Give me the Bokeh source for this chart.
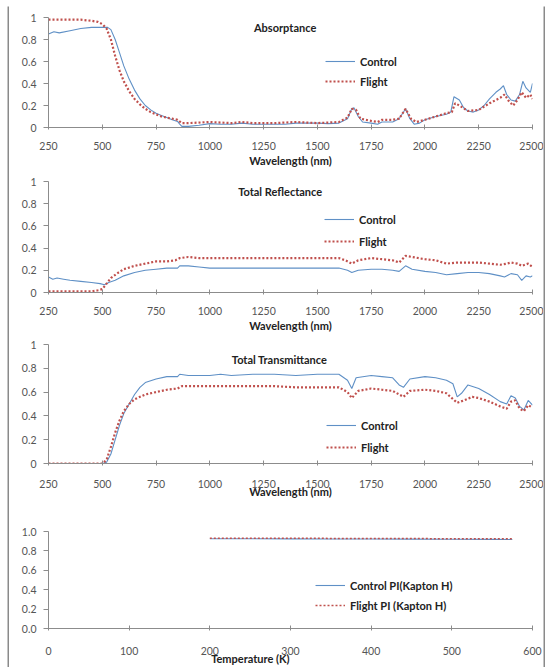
from bokeh.plotting import figure
from bokeh.layouts import column, row
from bokeh.models import (Range1d, FixedTicker, Label, Legend, LegendItem, Spacer,
                          NumeralTickFormatter)
from bokeh.embed import file_html
from bokeh.resources import INLINE

# ---------------- data ----------------
abs_ctrl_wl = [250, 275, 300, 350, 400, 450, 500, 525, 540, 560, 580, 600, 625, 650, 675, 700,
               725, 750, 775, 800, 825, 850, 860, 870, 900, 950, 1000, 1050, 1100, 1150, 1200,
               1250, 1300, 1350, 1400, 1450, 1500, 1550, 1600, 1640, 1660, 1670, 1690, 1710,
               1750, 1780, 1800, 1850, 1880, 1910, 1930, 1950, 1975, 2000, 2050, 2100, 2120,
               2135, 2160, 2180, 2200, 2225, 2250, 2275, 2300, 2330, 2350, 2365, 2380, 2400,
               2420, 2440, 2455, 2470, 2490, 2500]
abs_ctrl = [0.85, 0.87, 0.86, 0.88, 0.90, 0.91, 0.91, 0.91, 0.89, 0.80, 0.68, 0.56, 0.44, 0.34,
            0.26, 0.20, 0.16, 0.13, 0.11, 0.09, 0.07, 0.055, 0.03, 0.01, 0.01, 0.02, 0.035, 0.03,
            0.03, 0.04, 0.03, 0.03, 0.03, 0.03, 0.04, 0.04, 0.04, 0.035, 0.04, 0.08, 0.17, 0.18,
            0.10, 0.05, 0.04, 0.03, 0.05, 0.05, 0.08, 0.17, 0.08, 0.03, 0.04, 0.07, 0.10, 0.12,
            0.14, 0.28, 0.25, 0.18, 0.15, 0.14, 0.16, 0.20, 0.26, 0.32, 0.35, 0.38, 0.30, 0.25,
            0.24, 0.30, 0.42, 0.36, 0.32, 0.40]

abs_flt_wl = [250, 300, 350, 400, 450, 480, 500, 520, 540, 560, 580, 600, 625, 650, 675, 700,
              725, 750, 775, 800, 825, 850, 870, 900, 1000, 1100, 1150, 1200, 1300, 1400, 1500,
              1600, 1640, 1660, 1680, 1700, 1750, 1780, 1800, 1850, 1880, 1910, 1935, 1960,
              2000, 2050, 2100, 2125, 2140, 2160, 2200, 2250, 2300, 2350, 2370, 2390, 2410,
              2430, 2450, 2470, 2490, 2500]
abs_flt = [0.98, 0.98, 0.98, 0.98, 0.97, 0.96, 0.94, 0.90, 0.80, 0.65, 0.52, 0.42, 0.33, 0.26,
           0.21, 0.17, 0.14, 0.12, 0.10, 0.09, 0.08, 0.07, 0.04, 0.04, 0.05, 0.04, 0.05, 0.04,
           0.04, 0.05, 0.04, 0.05, 0.09, 0.17, 0.16, 0.08, 0.06, 0.05, 0.07, 0.07, 0.08, 0.17,
           0.08, 0.05, 0.07, 0.10, 0.13, 0.14, 0.22, 0.20, 0.15, 0.16, 0.22, 0.27, 0.30, 0.24,
           0.20, 0.25, 0.32, 0.27, 0.30, 0.26]

ref_ctrl_wl = [250, 270, 290, 320, 350, 400, 450, 490, 510, 530, 560, 600, 650, 700, 750, 800,
               850, 860, 900, 950, 1000, 1100, 1200, 1300, 1400, 1500, 1600, 1640, 1660, 1690,
               1750, 1800, 1850, 1880, 1910, 1940, 2000, 2050, 2100, 2150, 2200, 2250, 2300,
               2350, 2370, 2400, 2430, 2450, 2470, 2490, 2500]
ref_ctrl = [0.14, 0.12, 0.13, 0.12, 0.11, 0.10, 0.09, 0.08, 0.07, 0.09, 0.11, 0.15, 0.18, 0.20,
            0.21, 0.22, 0.22, 0.24, 0.24, 0.23, 0.22, 0.22, 0.22, 0.22, 0.22, 0.22, 0.22, 0.20,
            0.18, 0.20, 0.21, 0.21, 0.20, 0.19, 0.24, 0.21, 0.19, 0.18, 0.16, 0.17, 0.18, 0.18,
            0.17, 0.15, 0.14, 0.17, 0.16, 0.11, 0.15, 0.14, 0.15]

ref_flt_wl = [250, 300, 400, 450, 480, 500, 520, 540, 575, 600, 650, 700, 750, 800, 840, 860,
              900, 950, 1000, 1100, 1200, 1300, 1400, 1500, 1600, 1630, 1660, 1690, 1750, 1800,
              1850, 1880, 1910, 1940, 2000, 2050, 2100, 2150, 2200, 2250, 2300, 2350, 2380,
              2400, 2430, 2450, 2480, 2500]
ref_flt = [0.01, 0.01, 0.01, 0.01, 0.02, 0.03, 0.08, 0.13, 0.18, 0.21, 0.24, 0.26, 0.28, 0.28,
           0.29, 0.31, 0.32, 0.31, 0.31, 0.31, 0.31, 0.31, 0.31, 0.31, 0.31, 0.29, 0.26, 0.29,
           0.31, 0.30, 0.29, 0.27, 0.33, 0.32, 0.30, 0.29, 0.26, 0.27, 0.27, 0.27, 0.26, 0.25,
           0.26, 0.27, 0.26, 0.24, 0.26, 0.23]

tra_ctrl_wl = [250, 500, 520, 540, 560, 580, 600, 625, 650, 675, 700, 750, 800, 850, 860, 900,
               1000, 1050, 1100, 1200, 1300, 1400, 1500, 1600, 1640, 1660, 1680, 1750, 1800,
               1850, 1880, 1900, 1930, 2000, 2050, 2100, 2130, 2150, 2170, 2200, 2250, 2300,
               2350, 2380, 2400, 2420, 2440, 2460, 2480, 2500]
tra_ctrl = [0.0, 0.0, 0.01, 0.08, 0.20, 0.32, 0.42, 0.50, 0.58, 0.64, 0.68, 0.71, 0.73, 0.73,
            0.75, 0.74, 0.74, 0.75, 0.74, 0.75, 0.75, 0.74, 0.75, 0.75, 0.70, 0.63, 0.72, 0.74,
            0.73, 0.72, 0.66, 0.64, 0.71, 0.73, 0.72, 0.70, 0.67, 0.56, 0.59, 0.66, 0.63, 0.58,
            0.52, 0.50, 0.57, 0.55, 0.48, 0.45, 0.53, 0.49]

tra_flt_wl = [250, 500, 520, 540, 560, 580, 600, 625, 650, 700, 750, 800, 850, 870, 900, 1000,
              1100, 1200, 1300, 1400, 1500, 1600, 1640, 1660, 1690, 1750, 1800, 1850, 1880,
              1900, 1930, 2000, 2050, 2100, 2150, 2180, 2220, 2250, 2300, 2350, 2380, 2400,
              2420, 2440, 2460, 2480, 2500]
tra_flt = [0.0, 0.0, 0.03, 0.14, 0.26, 0.36, 0.44, 0.50, 0.54, 0.58, 0.60, 0.62, 0.63, 0.65,
           0.65, 0.65, 0.65, 0.65, 0.65, 0.64, 0.64, 0.64, 0.60, 0.55, 0.61, 0.63, 0.62, 0.61,
           0.58, 0.56, 0.61, 0.62, 0.61, 0.59, 0.51, 0.53, 0.56, 0.55, 0.52, 0.48, 0.46, 0.52,
           0.53, 0.46, 0.44, 0.49, 0.47]

emi_temp = [200, 250, 300, 350, 400, 450, 500, 550, 575]
emi_ctrl = [0.925, 0.925, 0.924, 0.923, 0.922, 0.921, 0.920, 0.919, 0.918]
emi_flt = [0.930, 0.930, 0.930, 0.929, 0.928, 0.927, 0.926, 0.925, 0.924]

wl_ticks = [250, 500, 750, 1000, 1250, 1500, 1750, 2000, 2250, 2500]
frac_ticks = [0, 0.2, 0.4, 0.6, 0.8, 1]
frac_labels = {0: "0", 0.2: "0.2", 0.4: "0.4", 0.6: "0.6", 0.8: "0.8", 1: "1"}
temp_ticks = [0, 100, 200, 300, 400, 500, 600]

# ---------------- style ----------------
FONT = "Lato"
CTRL = "#5f90c6"
FLT = "#c0504d"
AXIS = "#8c8c8c"
EDGE = "#8a8a8a"
TXT = "#555555"
W = 534


def bar(w, h):
    f = figure(width=w, height=h, output_backend="svg", toolbar_location=None,
               x_axis_location=None, y_axis_location=None, min_border=0,
               x_range=Range1d(0, 1), y_range=Range1d(0, 1))
    f.grid.visible = False
    f.outline_line_color = None
    f.background_fill_color = EDGE
    f.border_fill_color = EDGE
    return f


def base(height, xr, xticks, top, bottom, left, right):
    p = figure(width=W, height=height, output_backend="svg", toolbar_location=None,
               x_range=xr, y_range=Range1d(0, 1), min_border_top=top,
               min_border_bottom=bottom, min_border_left=left, min_border_right=right)
    p.outline_line_color = None
    p.grid.visible = False
    p.background_fill_color = "white"
    p.border_fill_color = "white"
    for ax in (p.xaxis[0], p.yaxis[0]):
        ax.axis_line_color = AXIS
        ax.major_tick_line_color = AXIS
        ax.minor_tick_line_color = None
        ax.major_label_text_font = FONT
        ax.major_label_text_font_size = "10.5px"
        ax.major_label_text_color = TXT
        ax.axis_label_text_font = FONT
        ax.axis_label_text_font_style = "bold"
        ax.axis_label_text_font_size = "11px"
        ax.axis_label_text_color = "#222222"
    p.xaxis.ticker = FixedTicker(ticks=xticks)
    p.xaxis.major_tick_in = 3
    p.xaxis.major_tick_out = 2
    p.yaxis.major_tick_in = 0
    p.yaxis.major_tick_out = 5
    p.yaxis.major_label_standoff = 7
    return p


def add_text(p, text, x, y):
    p.add_layout(Label(x=x, y=y, text=text, text_font=FONT, text_font_style="bold",
                       text_font_size="11px", text_align="center", text_baseline="middle",
                       text_color="#222222"))


def add_legend(p, r1, r2, n1, n2, loc, row_h):
    leg = Legend(items=[LegendItem(label=n1, renderers=[r1]),
                        LegendItem(label=n2, renderers=[r2])],
                 location=loc, glyph_width=30, glyph_height=row_h, label_height=row_h,
                 label_standoff=5, spacing=0, padding=0, margin=0,
                 label_text_font=FONT, label_text_font_style="bold",
                 label_text_font_size="11px", label_text_color="#222222",
                 background_fill_alpha=0, border_line_alpha=0)
    p.add_layout(leg)


def spectral(height, top, bottom, left, title, tx, ty, xc, yc, xf, yf, loc, row_h,
             tick_standoff, label_standoff):
    p = base(height, Range1d(250, 2500), wl_ticks, top, bottom, left, 11)
    p.yaxis.ticker = FixedTicker(ticks=frac_ticks)
    p.yaxis.major_label_overrides = frac_labels
    p.xaxis.axis_label = "Wavelength (nm)"
    p.xaxis.major_label_standoff = tick_standoff
    p.xaxis.axis_label_standoff = label_standoff
    r1 = p.line(xc, yc, line_color=CTRL, line_width=1.1)
    r2 = p.line(xf, yf, line_color=FLT, line_width=2.2, line_dash="2 2")
    add_text(p, title, tx, ty)
    add_legend(p, r1, r2, "Control", "Flight", loc, row_h)
    return p


p1 = spectral(161, 9, 40, 34, "Absorptance", 1350, 0.91,
              abs_ctrl_wl, abs_ctrl, abs_flt_wl, abs_flt, (277, 36), 20, 12, 1)
p2 = spectral(163, 10, 40, 34, "Total Reflectance", 1327, 0.91,
              ref_ctrl_wl, ref_ctrl, ref_flt_wl, ref_flt, (276, 40), 22, 12, 1)
p3 = spectral(168, 8, 41, 35, "Total Transmittance", 1324, 0.874,
              tra_ctrl_wl, tra_ctrl, tra_flt_wl, tra_flt, (278, 5), 22, 14, -6)

p4 = base(161, Range1d(0, 600), temp_ticks, 25, 38, 39, 9)
p4.yaxis.ticker = FixedTicker(ticks=frac_ticks)
p4.yaxis.formatter = NumeralTickFormatter(format="0.0")
p4.xaxis.major_label_standoff = 16
p4.xaxis.axis_label = "Temperature (K)" + "\u00a0" * 30
p4.xaxis.axis_label_standoff = -6
q1 = p4.line(emi_temp, emi_ctrl, line_color=CTRL, line_width=1.1)
q2 = p4.line(emi_temp, emi_flt, line_color=FLT, line_width=1.5, line_dash="2 2")
add_text(p4, "Thermal Emittance", 289, 1.10)
add_legend(p4, q1, q2, "Control PI(Kapton H)", "Flight PI (Kapton H)", (267, 13), 20)

stack = column(bar(W, 2), p1, bar(W, 2), p2, bar(W, 2), p3, bar(W, 2), p4, spacing=0)
framed = row(Spacer(width=7), bar(2, 661), stack, bar(2, 661), spacing=0)
layout = column(Spacer(height=6), framed, spacing=0)
open("out.html", "w").write(file_html(layout, INLINE))
